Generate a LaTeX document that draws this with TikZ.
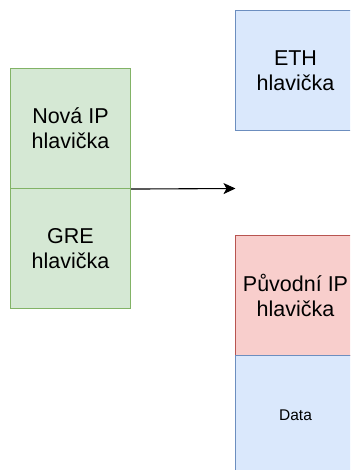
\documentclass[tikz,border=0pt]{standalone}
\usepackage{fontspec}
\setmainfont{Liberation Sans}
\usetikzlibrary{arrows.meta}
\definecolor{gfill}{HTML}{D5E8D4}
\definecolor{gdraw}{HTML}{82B366}
\definecolor{bfill}{HTML}{DAE8FC}
\definecolor{bdraw}{HTML}{6C8EBF}
\definecolor{rfill}{HTML}{F8CECC}
\definecolor{rdraw}{HTML}{B85450}
\tikzset{
  box/.style={rectangle, minimum width=120pt, minimum height=120pt, inner sep=0pt, align=center, line width=1.1pt, font=\fontsize{21.5}{25}\selectfont},
  gbox/.style={box, fill=gfill, draw=gdraw},
  bbox/.style={box, fill=bfill, draw=bdraw},
  rbox/.style={box, fill=rfill, draw=rdraw},
  conn/.style={line width=1.1pt, -{Stealth[length=12pt,width=11pt,inset=3pt]}}
}
\begin{document}
\begin{tikzpicture}[x=1pt,y=-1pt]
\useasboundingbox (0,0) rectangle (350,470);
\clip (0,0) rectangle (350,470);
\node[gbox] (nova) at (70.5,128.5) {Nová IP\\hlavička};
\node[gbox] (gre) at (70.5,248.5) {GRE\\hlavička};
\node[bbox] (eth) at (295.5,70.5) {ETH\\hlavička};
\node[rbox] (puv) at (295.5,295.5) {Původní IP\\hlavička};
\node[bbox, font=\fontsize{15.5}{18}\selectfont] (data) at (295.5,415.5) {Data};
\coordinate (aend) at (235.5,188.5);
\draw[conn] (nova.south east) -- (aend);
\end{tikzpicture}
\end{document}
